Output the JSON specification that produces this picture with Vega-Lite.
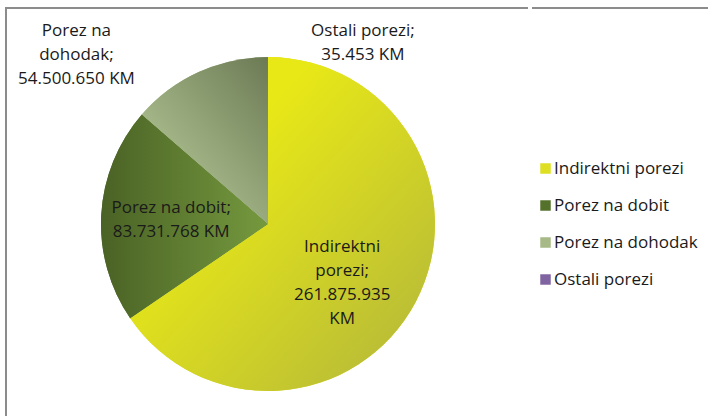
{
  "$schema": "https://vega.github.io/schema/vega-lite/v6.json",
  "padding": {"left": 5, "top": 7, "right": 0, "bottom": 0},
  "background": "white",
  "spacing": 0,
  "config": {
    "font": "Open Sans",
    "view": {"stroke": null},
    "legend": {
      "orient": "none",
      "legendX": 531,
      "legendY": 152,
      "symbolType": "square",
      "symbolSize": 110,
      "symbolStrokeWidth": 0,
      "labelFontSize": 17,
      "labelFont": "Open Sans",
      "labelColor": "#1a1a1a",
      "labelOffset": 0,
      "rowPadding": 19,
      "title": null
    }
  },
  "data": {
    "values": [
      {"n": 1, "k": "Indirektni porezi", "v": 261875935, "label": "Indirektni\nporezi;\n261.875.935\nKM"},
      {"n": 2, "k": "Porez na dobit", "v": 83731768, "label": "Porez na dobit;\n83.731.768 KM"},
      {"n": 3, "k": "Porez na dohodak", "v": 54500650, "label": "Porez na\ndohodak;\n54.500.650 KM"},
      {"n": 4, "k": "Ostali porezi", "v": 35453, "label": "Ostali porezi;\n35.453 KM"}
    ]
  },
  "hconcat": [
    {
      "width": 524,
      "height": 432,
      "view": {"stroke": "#8c8c8c", "strokeWidth": 2, "strokeDash": [522, 958, 432]},
      "layer": [
        {
          "mark": {"type": "arc", "radius": 167},
          "encoding": {
            "theta": {"field": "v", "type": "quantitative", "stack": true},
            "order": {"field": "n", "type": "quantitative"},
            "color": {
              "field": "k",
              "type": "nominal",
              "scale": {
                "domain": ["Indirektni porezi", "Porez na dobit", "Porez na dohodak", "Ostali porezi"],
                "range": ["#dede22", "#55722c", "#a6b986", "#8064a2"]
              },
              "legend": {"title": null}
            }
          }
        },
        {
          "mark": {"type": "arc", "radius": 167},
          "encoding": {
            "theta": {"field": "v", "type": "quantitative", "stack": true},
            "order": {"field": "n", "type": "quantitative"},
            "fill": {
              "condition": [
                {"test": "datum.k === 'Indirektni porezi'", "value": {"gradient": "linear", "x1": 0.3, "y1": 0.3, "x2": 1, "y2": 1, "stops": [{"offset": 0, "color": "#e8e817"}, {"offset": 1, "color": "#b0b43c"}]}},
                {"test": "datum.k === 'Porez na dobit'", "value": {"gradient": "linear", "x1": 0, "y1": 0.5, "x2": 1, "y2": 0.5, "stops": [{"offset": 0, "color": "#4a6225"}, {"offset": 1, "color": "#75993e"}]}},
                {"test": "datum.k === 'Porez na dohodak'", "value": {"gradient": "linear", "x1": 0.2, "y1": 0.9, "x2": 1, "y2": 0, "stops": [{"offset": 0, "color": "#b4c897"}, {"offset": 1, "color": "#6c7a54"}]}}
              ],
              "value": "#8064a2"
            }
          }
        },
        {
          "mark": {"type": "text", "radius": 94, "dx": -9, "dy": -21, "align": "center", "baseline": "middle", "fontSize": 17, "lineHeight": 24, "lineBreak": "\n", "color": "#1a1a1a"},
          "encoding": {
            "theta": {"field": "v", "type": "quantitative", "stack": true},
            "order": {"field": "n", "type": "quantitative"},
            "text": {"condition": {"test": "datum.k === 'Indirektni porezi'", "field": "label"}, "value": ""}
          }
        },
        {
          "mark": {"type": "text", "radius": 97, "dy": -10, "align": "center", "baseline": "middle", "fontSize": 17, "lineHeight": 24, "lineBreak": "\n", "color": "#1a1a1a"},
          "encoding": {
            "theta": {"field": "v", "type": "quantitative", "stack": true},
            "order": {"field": "n", "type": "quantitative"},
            "text": {"condition": {"test": "datum.k === 'Porez na dobit'", "field": "label"}, "value": ""}
          }
        },
        {
          "mark": {"type": "text", "radius": 100, "dx": -150, "dy": -102, "align": "center", "baseline": "middle", "fontSize": 17, "lineHeight": 24, "lineBreak": "\n", "color": "#1a1a1a"},
          "encoding": {
            "theta": {"field": "v", "type": "quantitative", "stack": true},
            "order": {"field": "n", "type": "quantitative"},
            "text": {"condition": {"test": "datum.k === 'Porez na dohodak'", "field": "label"}, "value": ""}
          }
        },
        {
          "mark": {"type": "text", "radius": 182, "dx": 95, "dy": -11, "align": "center", "baseline": "middle", "fontSize": 17, "lineHeight": 24, "lineBreak": "\n", "color": "#1a1a1a"},
          "encoding": {
            "theta": {"field": "v", "type": "quantitative", "stack": true},
            "order": {"field": "n", "type": "quantitative"},
            "text": {"condition": {"test": "datum.k === 'Ostali porezi'", "field": "label"}, "value": ""}
          }
        }
      ]
    },
    {
      "width": 179,
      "height": 432,
      "view": {"stroke": "#8c8c8c", "strokeWidth": 2, "strokeDash": [181, 2000]},
      "mark": {"type": "text"},
      "encoding": {"text": {"value": ""}}
    }
  ]
}
